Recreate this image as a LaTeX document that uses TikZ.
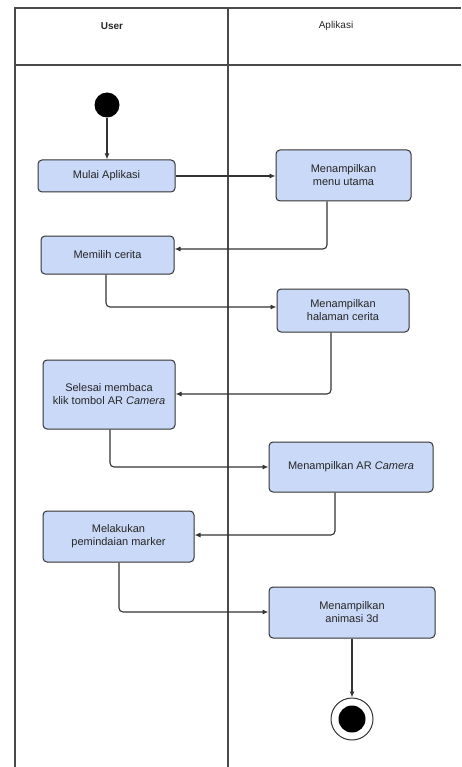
\documentclass[tikz,border=0pt]{standalone}
\usepackage{fontspec}
\setmainfont{Liberation Sans}
\usepackage{tikz}
\usetikzlibrary{arrows.meta,positioning,calc}
\usepackage{xcolor}
\definecolor{actfill}{HTML}{C9D9F7}
\definecolor{actline}{HTML}{333333}
\definecolor{laneline}{HTML}{4A4A4A}
\definecolor{txt}{HTML}{262626}

\begin{document}
\begin{tikzpicture}[
  x=1pt, y=-1pt,
  font=\fontsize{11}{13}\selectfont,
  act/.style={draw=actline, fill=actfill, line width=1pt, rounded corners=4pt, align=center, text=txt, inner sep=2pt},
  flow/.style={draw=actline, line width=1.1pt, rounded corners=4pt, -{Latex[length=6pt,width=5pt]}},
  lane/.style={draw=laneline, line width=1.1pt}
]
\useasboundingbox (0,0) rectangle (461,767);
% swimlanes
\draw[lane] (15,767) -- (15,8) -- (461,8);
\draw[lane] (15,65) -- (461,65);
\draw[lane] (228,8) -- (228,767);
\node[font=\fontsize{10}{12}\selectfont\bfseries, text=txt] (huser) at (112,26) {User};
\node[font=\fontsize{10}{12}\selectfont, text=txt] (happ) at (336,26) {Aplikasi};
% start / end
\node[circle, fill=black, minimum size=25pt, inner sep=0pt] (start) at (107,105) {};
\node[circle, draw=actline, line width=1pt, fill=white, minimum size=42pt, inner sep=0pt] (stop) at (352,719) {};
\node[circle, fill=black, minimum size=27pt, inner sep=0pt] (stopin) at (stop) {};
% activities
\node[act, minimum width=137pt, minimum height=32pt] (mulai) at (106.5,176) {Mulai Aplikasi};
\node[act, minimum width=135pt, minimum height=51pt] (menu) at (343.5,175.5) {Menampilkan\\menu utama};
\node[act, minimum width=133pt, minimum height=38pt] (pilih) at (107.5,255) {Memilih cerita};
\node[act, minimum width=132pt, minimum height=43pt] (halaman) at (343,310.5) {Menampilkan\\halaman cerita};
\node[act, minimum width=132pt, minimum height=69pt] (selesai) at (109,394.5) {Selesai membaca\\klik tombol AR \textit{Camera}};
\node[act, minimum width=164pt, minimum height=50pt] (kamera) at (351,467) {Menampilkan AR \textit{Camera}};
\node[act, minimum width=151pt, minimum height=51pt] (pindai) at (118.5,536.5) {Melakukan\\pemindaian marker};
\node[act, minimum width=166pt, minimum height=51pt] (animasi) at (352,612.5) {Menampilkan\\animasi 3d};
% flows
\draw[flow, line width=1.5pt] (start) -- (mulai.north -| start);
\draw[flow] (mulai.east) -- (menu.west |- mulai.east);
\draw[flow] (327,0 |- menu.south) |- (pilih.east |- 0,249);
\draw[flow] (106,0 |- pilih.south) |- (halaman.west |- 0,307);
\draw[flow] (331,0 |- halaman.south) |- (selesai.east |- 0,394);
\draw[flow] (110,0 |- selesai.south) |- (kamera.west |- 0,467);
\draw[flow] (335,0 |- kamera.south) |- (pindai.east |- 0,535);
\draw[flow] (119,0 |- pindai.south) |- (animasi.west |- 0,612);
\draw[flow, line width=1.5pt] (animasi.south -| stop) -- (stop.north);
\end{tikzpicture}
\end{document}
